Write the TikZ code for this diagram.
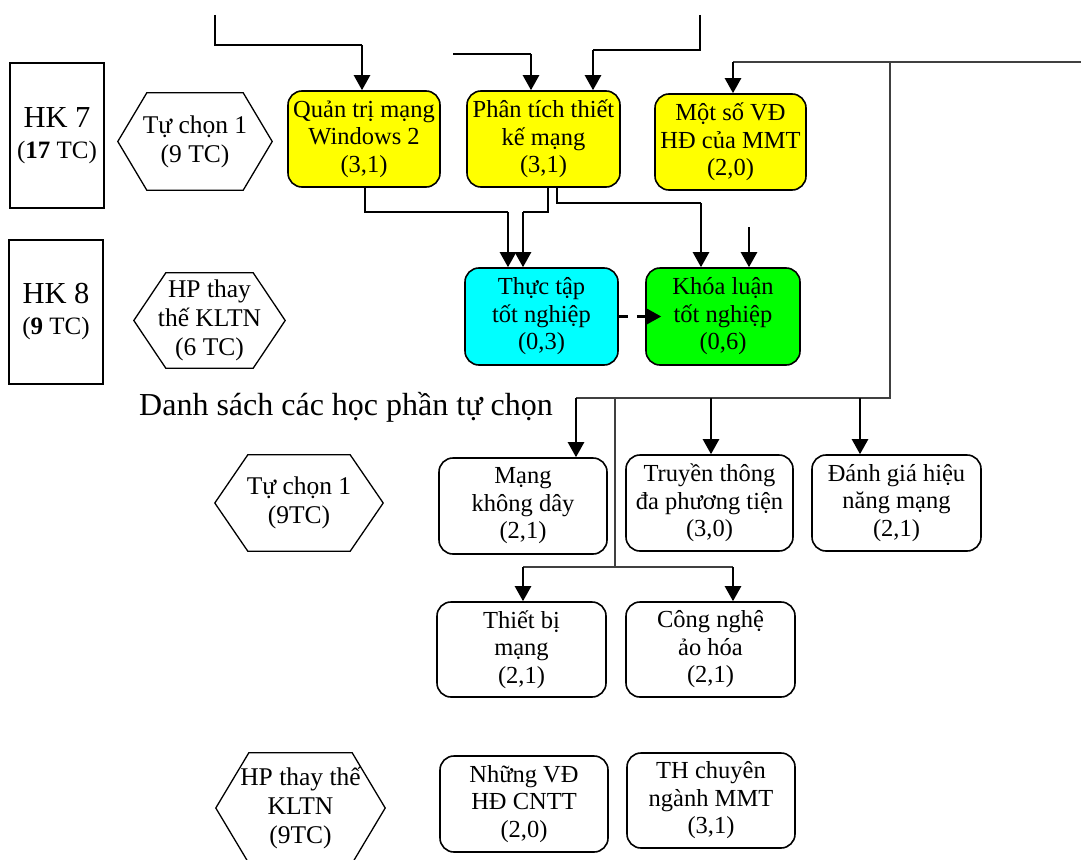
\documentclass[tikz,border=0pt]{standalone}
\usepackage{fontspec}
\setmainfont{Liberation Serif}
\usetikzlibrary{arrows.meta,calc}
\definecolor{boxyellow}{RGB}{255,255,0}
\definecolor{boxcyan}{RGB}{0,255,255}
\definecolor{boxgreen}{RGB}{0,255,0}
\definecolor{trunk}{RGB}{64,64,64}
\newcommand\hexframe[2]{\draw[line width=1.3pt] (#1.west) -- ([xshift=#2]#1.north west) -- ([xshift=-#2]#1.north east) -- (#1.east) -- ([xshift=-#2]#1.south east) -- ([xshift=#2]#1.south west) -- cycle;}
\tikzset{
	course/.style={draw, line width=1.6pt, rounded corners=14pt, align=center, inner sep=0pt, font=\fontsize{24.5}{27.5}\selectfont},
	hexa/.style={align=center, inner sep=0pt, font=\fontsize{25.5}{29}\selectfont},
	term/.style={draw, line width=1.3pt, align=center, inner sep=0pt, minimum width=94pt, minimum height=145pt, font=\fontsize{25}{31}\selectfont},
	wire/.style={line width=1.3pt},
	trunkline/.style={line width=1.3pt, color=trunk},
	arr/.style={line width=2.4pt, -{Triangle[length=15pt,width=16pt]}},
}

\begin{document}
\begin{tikzpicture}[x=1pt, y=-1pt]
			%%%%% PAGE %%%%%
			\useasboundingbox (0,0) rectangle (1081,859);
			\clip (0,0) rectangle (1081,859);
			
			%%%%% HK 7 %%%%%
			\node[term] (hk7) at (57,135.5) {{\fontsize{30.5}{31}\selectfont HK 7}\\(\textbf{17} TC)};
			\node[hexa, minimum width=154pt, minimum height=97pt] (hx1) at (195,141.5) {Tự chọn 1\\(9 TC)};
			\hexframe{hx1}{29pt}
			\node[course, fill=boxyellow, minimum width=152pt, minimum height=96pt] (qt) at (364,139) {Quản trị mạng\\Windows 2\\(3,1)};
			\node[course, fill=boxyellow, minimum width=153pt, minimum height=96pt] (pt) at (543.5,139) {Phân tích thiết\\kế mạng\\(3,1)};
			\node[course, fill=boxyellow, minimum width=151pt, minimum height=96pt] (mso) at (730.5,142) {Một số VĐ\\HĐ của MMT\\(2,0)};
			
			%%%%% HK 8 %%%%%
			\node[term, minimum height=144pt] (hk8) at (56,312) {{\fontsize{30.5}{31}\selectfont HK 8}\\(\textbf{9} TC)};
			\node[hexa, minimum width=151pt, minimum height=95pt] (hx2) at (209.5,320.5) {HP thay\\thế KLTN\\(6 TC)};
			\hexframe{hx2}{32pt}
			\node[course, fill=boxcyan, minimum width=153pt, minimum height=97pt] (ttn) at (541.5,316.5) {Thực tập\\tốt nghiệp\\(0,3)};
			\node[course, fill=boxgreen, minimum width=154pt, minimum height=97pt] (kl) at (723,316.5) {Khóa luận\\tốt nghiệp\\(0,6)};
			
			%%%%% ELECTIVES %%%%%
			\node[font=\fontsize{32}{36}\selectfont, anchor=base] (head) at (346,415) {Danh sách các học phần tự chọn};
			\node[hexa, minimum width=168pt, minimum height=96pt] (hx3) at (299,503) {Tự chọn 1\\(9TC)};
			\hexframe{hx3}{33pt}
			\node[course, minimum width=168pt, minimum height=96pt] (mang) at (523,506) {Mạng\\không dây\\(2,1)};
			\node[course, minimum width=167pt, minimum height=96pt] (tt2) at (709.5,503) {Truyền thông\\đa phương tiện\\(3,0)};
			\node[course, minimum width=169pt, minimum height=96pt] (dg) at (896.5,503) {Đánh giá hiệu\\năng mạng\\(2,1)};
			\node[course, minimum width=169pt, minimum height=95pt] (tb) at (521.5,649.5) {Thiết bị\\mạng\\(2,1)};
			\node[course, minimum width=169pt, minimum height=95pt] (cn) at (710.5,649.5) {Công nghệ\\ảo hóa\\(2,1)};
			\node[hexa, minimum width=169pt, minimum height=110pt] (hx4) at (300.5,808) {HP thay thế\\KLTN\\(9TC)};
			\hexframe{hx4}{33pt}
			\node[course, minimum width=168pt, minimum height=96pt] (nvd) at (524,804) {Những VĐ\\HĐ CNTT\\(2,0)};
			\node[course, minimum width=168pt, minimum height=95pt] (thc) at (711,800.5) {TH chuyên\\ngành MMT\\(3,1)};
			
			%%%%% CONNECTORS TOP %%%%%
			\coordinate (s1) at (215,15);
			\coordinate (k1) at (362,45);
			\draw[wire] (s1) |- (k1);
			\draw[arr] (k1) -- (k1 |- qt.north);
			
			\coordinate (s2) at (453,54);
			\coordinate (k2) at (531,54);
			\draw[wire] (s2) -- (k2);
			\draw[arr] (k2) -- (k2 |- pt.north);
			
			\coordinate (s3) at (700,15);
			\coordinate (k3) at (593,50);
			\draw[wire] (s3) |- (k3);
			\draw[arr] (k3) -- (k3 |- pt.north);
			
			\coordinate (s4) at (1081,62);
			\coordinate (k4) at (733,62);
			\draw[trunkline] (s4) -- (k4);
			\draw[arr] (k4) -- (k4 |- mso.north);
			
			%%%%% CONNECTORS MIDDLE %%%%%
			\coordinate (k10) at (508,212);
			\draw[wire] ([xshift=1pt]qt.south) |- (k10);
			\draw[arr] (k10) -- (k10 |- ttn.north);
			\coordinate (k11) at (523,212);
			\draw[wire] ([xshift=4.5pt]pt.south) |- (k11);
			\draw[arr] (k11) -- (k11 |- ttn.north);
			\coordinate (k12) at (701,203);
			\draw[wire] ([xshift=13.5pt]pt.south) |- (k12);
			\draw[arr] (k12) -- (k12 |- kl.north);
			\coordinate (s5) at (749,227);
			\draw[arr] (s5) -- (s5 |- kl.north);
			\draw[arr, dash pattern=on 9pt off 9pt] (ttn.east) -- ([xshift=16pt]kl.west);
			
			%%%%% CONNECTORS ELECTIVES %%%%%
			\coordinate (j1) at (890,62);
			\coordinate (k5) at (576,398);
			\draw[trunkline] (j1) |- (k5);
			\draw[arr] (k5) -- (k5 |- mang.north);
			\coordinate (k6) at (711,398);
			\draw[arr] (k6) -- (k6 |- tt2.north);
			\coordinate (k7) at (860,398);
			\draw[arr] (k7) -- (k7 |- dg.north);
			
			\coordinate (j2) at (615,398);
			\coordinate (j3) at (615,567);
			\coordinate (k8) at (523,567);
			\coordinate (k9) at (733,567);
			\draw[trunkline] (j2) -- (j3);
			\draw[trunkline] (k8) -- (k9);
			\draw[arr] (k8) -- (k8 |- tb.north);
			\draw[arr] (k9) -- (k9 |- cn.north);
			
			%%%%% END %%%%%
\end{tikzpicture}
\end{document}
